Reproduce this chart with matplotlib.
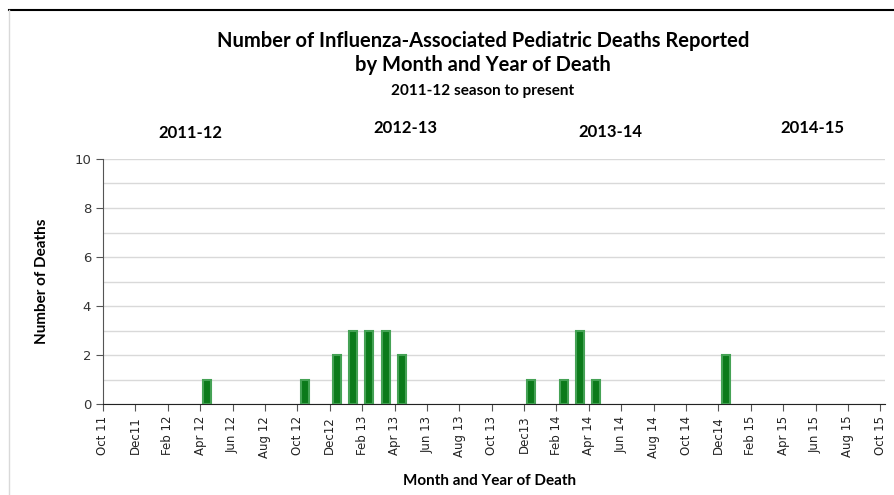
import matplotlib.pyplot as plt

# meses de Oct 11 a Oct 15
months = ['Oct 11', 'Nov 11', 'Dec11', 'Jan 12', 'Feb 12', 'Mar 12', 'Apr 12', 'May 12',
          'Jun 12', 'Jul 12', 'Aug 12', 'Sep 12', 'Oct 12', 'Nov 12', 'Dec12', 'Jan 13',
          'Feb 13', 'Mar 13', 'Apr 13', 'May 13', 'Jun 13', 'Jul 13', 'Aug 13', 'Sep 13',
          'Oct 13', 'Nov 13', 'Dec13', 'Jan 14', 'Feb 14', 'Mar 14', 'Apr 14', 'May 14',
          'Jun 14', 'Jul 14', 'Aug 14', 'Sep 14', 'Oct 14', 'Nov 14', 'Dec14', 'Jan 15',
          'Feb 15', 'Mar 15', 'Apr 15', 'May 15', 'Jun 15', 'Jul 15', 'Aug 15', 'Sep 15',
          'Oct 15']
deaths = [0, 0, 0, 0, 0, 0, 1, 0,
          0, 0, 0, 0, 1, 0, 2, 3,
          3, 3, 2, 0, 0, 0, 0, 0,
          0, 0, 1, 0, 1, 3, 1, 0,
          0, 0, 0, 0, 0, 0, 2, 0,
          0, 0, 0, 0, 0, 0, 0, 0,
          0]
seasons = ['2011-12', '2012-13', '2013-14', '2014-15']

fig = plt.figure(figsize=(8.94, 4.95), dpi=100)
ax = fig.add_axes([0.1152, 0.1838, 0.875, 0.495])

# solo las barras con valor (las de cero no se ven)
x = [i + 0.45 for i, d in enumerate(deaths) if d > 0]
y = [d for d in deaths if d > 0]
ax.bar(x, y, width=0.5, color='#0b7a1a', edgecolor='#45a255', linewidth=1.5, zorder=3)

ax.set_xlim(0, 48.3)
ax.set_ylim(0, 10)
ax.set_xticks(range(0, len(months), 2))
ax.set_xticklabels(months[::2], rotation=90, fontsize=8.5, family='DejaVu Sans', color='#222222')
ax.set_yticks(range(0, 11, 2))
ax.set_yticklabels([str(v) for v in range(0, 11, 2)], fontsize=9.5, color='#333333')
ax.set_yticks(range(0, 11), minor=True)
ax.tick_params(axis='y', which='minor', length=0)
ax.grid(axis='y', which='both', color='#d9d9d9', linewidth=1, zorder=0)
ax.tick_params(axis='both', which='major', length=5, color='#555555')

for s in ['top', 'right']:
    ax.spines[s].set_visible(False)
ax.spines['left'].set_color('#555555')
ax.spines['bottom'].set_color('#222222')

ax.set_ylabel('Number of Deaths', fontsize=11, fontweight='bold', family='Lato', labelpad=18)
fig.text(0.548, 0.02, 'Month and Year of Death', ha='center', fontsize=11,
         fontweight='bold', family='Lato')

fig.text(0.54, 0.918, 'Number of Influenza-Associated Pediatric Deaths Reported',
         ha='center', va='center', fontsize=14.5, fontweight='bold', family='Lato')
fig.text(0.54, 0.868, 'by Month and Year of Death',
         ha='center', va='center', fontsize=14.5, fontweight='bold', family='Lato')
fig.text(0.54, 0.816, '2011-12 season to present',
         ha='center', va='center', fontsize=11, fontweight='bold', family='Lato')

season_x = [190, 405, 610, 812]
season_y = [133, 128, 132, 128]
for s, sx, sy in zip(seasons, season_x, season_y):
    fig.text(sx / 894, 1 - sy / 495, s, ha='center', va='center', fontsize=12,
             fontweight='bold', family='Lato')

# marco
fig.add_artist(plt.Line2D([9 / 894, 1], [1 - 10 / 495, 1 - 10 / 495], color='black', lw=1.5))
fig.add_artist(plt.Line2D([9 / 894, 9 / 894], [0, 1 - 10 / 495], color='#d9d9d9', lw=1))

plt.savefig('out.png', dpi=100)
